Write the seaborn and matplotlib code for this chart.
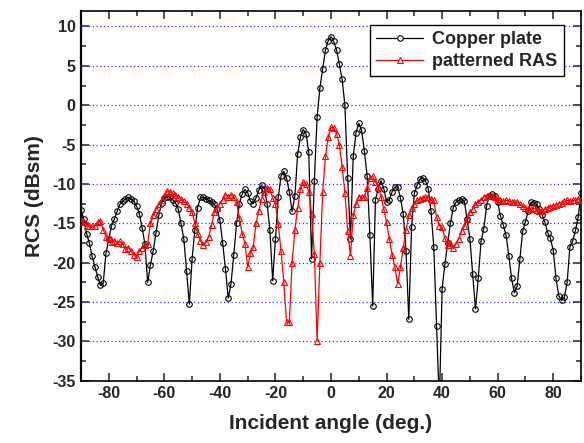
import numpy as np
import pandas as pd
import matplotlib
matplotlib.use("Agg")
import matplotlib.pyplot as plt
from matplotlib.lines import Line2D
from matplotlib.ticker import MultipleLocator
import seaborn as sns

angle = list(range(-90, 91))

copper_plate = [
    -13.3, -14.5, -16.3, -17.5, -19.2, -20.5, -21.8, -22.9, -22.6, -18.8,
    -17.0, -15.3, -14.5, -13.5, -12.6, -12.2, -11.9, -11.7, -11.9, -12.2,
    -12.8, -13.8, -15.6, -17.6, -22.5, -20.3, -18.5, -16.2, -14.0, -12.4,
    -11.8, -11.6, -11.7, -12.0, -12.4, -13.2, -15.0, -17.0, -21.0, -25.3,
    -19.5, -15.8, -13.0, -11.7, -11.7, -11.9, -12.1, -12.3, -12.6, -13.2,
    -14.6, -17.5, -20.8, -24.5, -22.7, -19.0, -15.0, -12.5, -11.3, -10.7,
    -11.1, -12.2, -12.5, -11.8, -10.8, -10.2, -10.6, -12.5, -15.9, -22.3,
    -17.0, -11.7, -9.0, -8.4, -9.3, -11.0, -13.5, -11.5, -6.2, -4.0,
    -3.1, -3.6, -6.0, -19.5, -9.6, -1.5, 2.2, 4.6, 7.0, 8.2,
    8.7, 8.1, 7.0, 5.2, 3.3, 0.0, -9.2, -17.0, -6.5, -3.5,
    -2.3, -3.2, -5.8, -9.0, -16.5, -25.5, -12.0, -10.6, -9.6, -10.6,
    -12.3, -12.0, -11.0, -10.4, -10.4, -11.8, -13.8, -18.5, -27.2, -15.5,
    -11.2, -10.2, -9.4, -9.2, -9.6, -10.6, -13.5, -18.0, -28.0, -38.0,
    -23.3, -20.2, -17.5, -15.0, -13.0, -12.3, -12.1, -11.9, -12.2, -14.5,
    -17.0, -21.5, -25.9, -22.0, -17.3, -15.7, -12.8, -11.5, -11.3, -11.5,
    -12.3, -14.1, -15.2, -16.5, -19.1, -22.0, -23.8, -23.0, -19.5, -16.0,
    -14.8, -13.4, -12.3, -12.4, -12.6, -13.2, -13.9, -14.9, -16.2, -16.9,
    -18.5, -22.0, -24.2, -24.8, -24.4, -22.5, -18.0, -17.3, -15.9, -14.2,
    -11.1,
]

patterned_ras = [
    -14.7, -14.9, -15.4, -15.3, -15.4, -15.3, -14.9, -14.7, -15.8, -16.7,
    -16.9, -17.4, -17.2, -17.5, -17.3, -17.6, -18.3, -18.1, -18.5, -19.0,
    -19.3, -18.5, -18.1, -17.8, -17.6, -15.0, -14.0, -13.2, -12.6, -12.0,
    -11.5, -10.9, -11.0, -11.2, -11.4, -11.6, -11.9, -12.2, -12.5, -13.0,
    -13.6, -15.0, -16.3, -17.2, -17.8, -17.4, -16.7, -15.2, -13.6, -13.0,
    -12.5, -12.0, -11.4, -11.6, -11.4, -11.7, -12.3, -14.3, -16.3, -17.6,
    -20.6, -18.8, -18.0, -15.0, -13.5, -11.9, -11.0, -10.5, -10.6, -11.8,
    -12.5, -15.1, -18.5, -22.5, -27.6, -27.6, -20.0, -15.8, -13.0, -10.6,
    -9.8, -10.0, -11.0, -13.8, -18.9, -29.9, -20.0, -11.0, -6.5, -4.1,
    -2.8, -2.9, -3.6, -5.0, -7.8, -11.1, -16.0, -19.1, -14.0, -12.6,
    -11.6, -11.7, -11.7, -10.5, -9.2, -9.0, -9.7, -10.4, -11.6, -13.2,
    -14.9, -17.0, -19.0, -20.6, -22.7, -20.6, -18.1, -15.8, -14.0, -13.1,
    -12.6, -12.1, -11.9, -11.8, -11.7, -11.7, -11.9, -12.1, -14.2, -15.3,
    -15.5, -16.9, -17.7, -17.5, -18.2, -17.6, -17.0, -16.0, -15.4, -14.5,
    -13.6, -13.2, -12.5, -12.3, -12.0, -11.7, -11.5, -11.5, -11.5, -11.7,
    -11.9, -12.1, -12.2, -12.1, -12.2, -12.3, -12.3, -12.3, -12.6, -12.8,
    -13.0, -13.2, -13.2, -13.1, -13.3, -13.5, -13.5, -13.2, -13.0, -12.9,
    -12.8, -12.7, -12.5, -12.4, -12.2, -12.1, -12.2, -12.1, -12.1, -11.9,
    -12.1,
]

series_names = ["Copper plate", "patterned RAS"]
x_ticks = [-80, -60, -40, -20, 0, 20, 40, 60, 80]
y_ticks = [-35, -30, -25, -20, -15, -10, -5, 0, 5, 10]

df_cu = pd.DataFrame({"angle": angle, "rcs": copper_plate})
df_ras = pd.DataFrame({"angle": angle, "rcs": patterned_ras})

sns.set_theme(style="ticks")
plt.rcParams["font.family"] = ["Liberation Sans", "DejaVu Sans"]
plt.rcParams["font.weight"] = "bold"
plt.rcParams["axes.unicode_minus"] = False

fig = plt.figure(figsize=(5.84, 4.43), dpi=100)
ax = fig.add_axes([0.1387, 0.1406, 0.8562, 0.8352])

sns.lineplot(data=df_cu, x="angle", y="rcs", ax=ax, color="black", lw=0.9,
             marker="o", markersize=4.0, markerfacecolor="none",
             markeredgecolor="black", markeredgewidth=0.8, zorder=3)
sns.lineplot(data=df_ras, x="angle", y="rcs", ax=ax, color="red", lw=0.9,
             marker="^", markersize=4.2, markerfacecolor="none",
             markeredgecolor="red", markeredgewidth=0.8, zorder=4)

ax.set_xlim(-90, 90)
ax.set_ylim(-35, 12)
ax.set_xticks(x_ticks)
ax.set_yticks(y_ticks)
ax.xaxis.set_minor_locator(MultipleLocator(10))
ax.yaxis.set_minor_locator(MultipleLocator(2.5))
ax.tick_params(which="both", direction="in", top=True, right=True, width=1.1,
               labelsize=11.5, pad=4)
ax.tick_params(which="major", length=5.5)
ax.tick_params(which="minor", length=3.5)
for lab in ax.get_xticklabels() + ax.get_yticklabels():
    lab.set_fontweight("bold")

for v in y_ticks[1:]:
    ax.axhline(v, color="#3030ff", lw=0.9, ls=(0, (1, 2)), zorder=1)

for s in ax.spines.values():
    s.set_linewidth(1.2)
    s.set_color("black")
ax.spines["left"].set_linewidth(1.6)

ax.set_xlabel("Incident angle (deg.)", fontsize=15, fontweight="bold", labelpad=9)
ax.set_ylabel("RCS (dBsm)", fontsize=15, fontweight="bold", labelpad=6)

handles = [
    Line2D([], [], color="black", lw=0.9, marker="o", markersize=4.0,
           markerfacecolor="white", markeredgecolor="black", markeredgewidth=0.8),
    Line2D([], [], color="red", lw=0.9, marker="^", markersize=4.2,
           markerfacecolor="white", markeredgecolor="red", markeredgewidth=0.8),
]
leg = ax.legend(handles, series_names, loc="upper right",
                bbox_to_anchor=(0.966, 0.961), borderaxespad=0,
                prop={"size": 13, "weight": "bold"}, frameon=True, fancybox=False,
                handlelength=2.6, handletextpad=0.5, borderpad=0.35,
                labelspacing=0.25)
leg.get_frame().set_edgecolor("black")
leg.get_frame().set_linewidth(1.0)
leg.get_frame().set_alpha(1)

fig.savefig("out.png", dpi=100)
